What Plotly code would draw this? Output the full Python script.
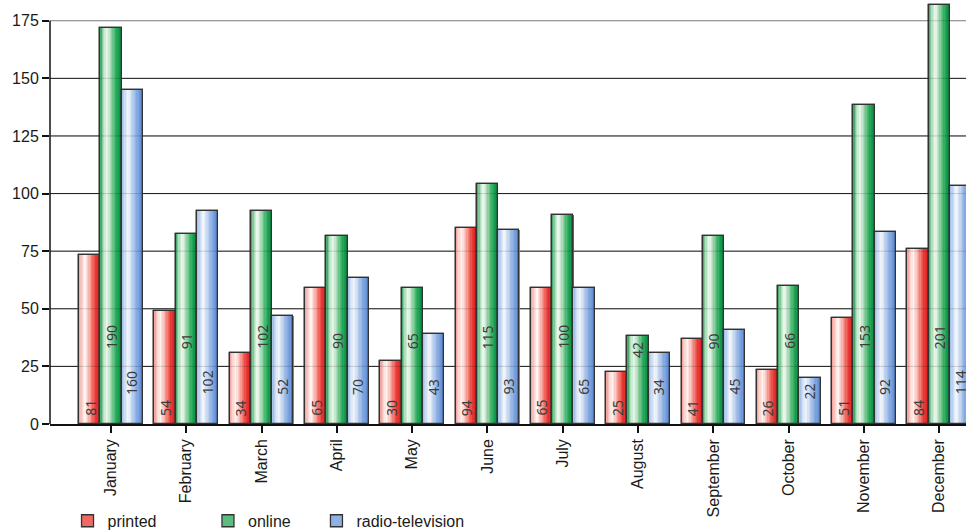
import plotly.graph_objects as go

# ---- data -------------------------------------------------------------
MONTHS = ["January", "February", "March", "April", "May", "June", "July",
          "August", "September", "October", "November", "December"]
PRINTED = [81, 54, 34, 65, 30, 94, 65, 25, 41, 26, 51, 84]
ONLINE = [190, 91, 102, 90, 65, 115, 100, 42, 90, 66, 153, 201]
RADIO_TV = [160, 102, 52, 70, 43, 93, 65, 34, 45, 22, 92, 114]
SERIES_NAMES = ["printed", "online", "radio-television"]
TICK_LABELS = [0, 25, 50, 75, 100, 125, 150, 175]

# ---- styling ----------------------------------------------------------
TICK_SCALE = 0.905         # axis tick t sits at value t / TICK_SCALE
AXIS_TOP = 184             # top of the plot, in tick units
PLOT_H = 424               # plot area height in px
BAR_W = 0.282              # width of a single bar (category units)
N_STRIPS = 16              # strips used to shade each bar like a cylinder
FONT = "Liberation Sans, Arial, sans-serif"
LABEL_FONT = "Noto Sans, Open Sans, sans-serif"
DIGIT_PX = 8.2             # approx. advance of one label digit

GRADIENTS = [
    [(0.0, "#f29a95"), (0.14, "#fbd3ce"), (0.28, "#fff4f1"), (0.45, "#f8bbb5"),
     (0.62, "#f1736b"), (0.78, "#e83a35"), (1.0, "#e01820")],
    [(0.0, "#2f9c58"), (0.14, "#a9dcb6"), (0.3, "#f1faf3"), (0.48, "#a6d9b2"),
     (0.66, "#4cb873"), (0.82, "#16a050"), (1.0, "#0b8a42")],
    [(0.0, "#9cbbe6"), (0.2, "#dce7f6"), (0.3, "#f4f7fc"), (0.5, "#bcd1ef"),
     (0.72, "#84aae2"), (1.0, "#5686d2")],
]
LEGEND_COLORS = ["#f06a64", "#5cbd7f", "#8fb2e4"]
LABEL_BASE = [0.014, 0.172, 0.064]   # paper height where each series' labels start
LEGEND_X = [0.0699, 0.2153, 0.3276]  # container fractions
LEGEND_Y = 0.021


def hex_rgb(h):
    h = h.lstrip("#")
    return tuple(int(h[i:i + 2], 16) for i in (0, 2, 4))


def shade(stops, t):
    for (p0, c0), (p1, c1) in zip(stops, stops[1:]):
        if p0 <= t <= p1:
            u = (t - p0) / (p1 - p0) if p1 > p0 else 0
            a, b = hex_rgb(c0), hex_rgb(c1)
            r, g, bl = (round(a[j] + (b[j] - a[j]) * u) for j in range(3))
            return f"rgb({r},{g},{bl})"
    return stops[-1][1]


idx = list(range(len(MONTHS)))
fig = go.Figure()

# gridlines (below bars); the topmost one is lighter
for t in TICK_LABELS[1:]:
    fig.add_shape(type="line", xref="paper", x0=0, x1=1, yref="y",
                  y0=t / TICK_SCALE, y1=t / TICK_SCALE, layer="below",
                  line=dict(color="#9a9a9a" if t == TICK_LABELS[-1] else "#1a1a1a",
                            width=1))

annotations = []
for s, (name, vals) in enumerate(zip(SERIES_NAMES, [PRINTED, ONLINE, RADIO_TV])):
    left = (s - 1.5) * BAR_W
    leg = "legend" if s == 0 else f"legend{s + 1}"
    # hidden full-width bar that carries the legend swatch
    fig.add_trace(go.Bar(
        x=idx, y=vals, offset=left, width=BAR_W, name=name, legend=leg,
        marker=dict(color=LEGEND_COLORS[s], line=dict(color="#333333", width=1.3)),
        hoverinfo="skip"))
    # shaded strips, each running to the right edge of the bar
    for k in range(N_STRIPS):
        start = left + k * BAR_W / N_STRIPS
        fig.add_trace(go.Bar(
            x=idx, y=vals, offset=start, width=BAR_W - k * BAR_W / N_STRIPS,
            marker=dict(color=shade(GRADIENTS[s], (k + 0.5) / N_STRIPS),
                        line=dict(width=0)),
            showlegend=False, hoverinfo="skip"))
    # outline
    fig.add_trace(go.Bar(
        x=idx, y=vals, offset=left, width=BAR_W,
        marker=dict(color="rgba(0,0,0,0)", line=dict(color="#333333", width=1.3)),
        showlegend=False, hoverinfo="skip"))
    # value labels, kept inside short bars
    for i, v in enumerate(vals):
        top = v * TICK_SCALE / AXIS_TOP
        text_len = (len(str(v)) * DIGIT_PX + 7) / PLOT_H
        base = max(0.01, min(LABEL_BASE[s], top - text_len))
        annotations.append(dict(
            x=i + left + BAR_W / 2, y=base, xref="x", yref="paper",
            text=str(v), textangle=-90, showarrow=False, yanchor="bottom",
            xanchor="center", font=dict(family=LABEL_FONT, size=14, color="#3c3c3c")))

# faint gridlines showing through the bars
for t in TICK_LABELS[1:]:
    fig.add_shape(type="line", xref="paper", x0=0, x1=1, yref="y",
                  y0=t / TICK_SCALE, y1=t / TICK_SCALE, layer="above",
                  line=dict(color="rgba(0,0,0,0.16)", width=1))

# vertical axis line, from 0 up to the last tick
fig.add_shape(type="line", xref="paper", x0=0, x1=0, yref="y", y0=0,
              y1=TICK_LABELS[-1] / TICK_SCALE, layer="above",
              line=dict(color="#111111", width=1.5))

legend_common = dict(orientation="h", xref="container", yref="container",
                     yanchor="middle", y=LEGEND_Y, xanchor="left",
                     bgcolor="rgba(0,0,0,0)", borderwidth=0,
                     font=dict(family=FONT, size=16, color="#1a1a1a"),
                     itemclick=False, itemdoubleclick=False)

fig.update_layout(
    width=966, height=532,
    margin=dict(l=50, r=0, t=0, b=108, autoexpand=False),
    paper_bgcolor="white", plot_bgcolor="white",
    barmode="overlay", bargap=0,
    showlegend=True,
    legend=dict(x=LEGEND_X[0], **legend_common),
    legend2=dict(x=LEGEND_X[1], **legend_common),
    legend3=dict(x=LEGEND_X[2], **legend_common),
    annotations=annotations,
    xaxis=dict(
        range=[-0.81, 11.355], tickvals=idx, ticktext=MONTHS, tickangle=-90,
        ticks="outside", ticklen=7, tickwidth=1.5, tickcolor="#111111",
        showline=True, linecolor="#111111", linewidth=1.5,
        showgrid=False, zeroline=False, automargin=False,
        tickfont=dict(family=FONT, size=16, color="#1a1a1a")),
    yaxis=dict(
        range=[0, AXIS_TOP / TICK_SCALE],
        tickvals=[t / TICK_SCALE for t in TICK_LABELS],
        ticktext=[str(t) for t in TICK_LABELS],
        ticks="outside", ticklen=7, tickwidth=1.5, tickcolor="#111111",
        showline=False, showgrid=False, zeroline=False, automargin=False,
        tickfont=dict(family=FONT, size=16, color="#1a1a1a")),
)

fig.write_html("out.html")
